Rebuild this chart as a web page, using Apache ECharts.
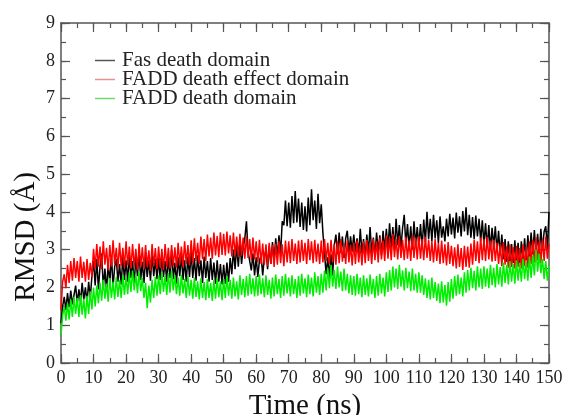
<!DOCTYPE html>
<html>
<head>
<meta charset="utf-8">
<script src="https://cdn.jsdelivr.net/npm/echarts@6/dist/echarts.min.js"></script>
<style>
  html, body { margin: 0; padding: 0; background: #fff; }
  #chart { width: 569px; height: 415px; }
</style>
</head>
<body>
<div id="chart"></div>
<script>
// RMSD samples, one every 0.5 ns from 0 to 150 ns
const seriesNames = ['Fas death domain', 'FADD death effect domain', 'FADD death domain'];
const xTicks = [0, 10, 20, 30, 40, 50, 60, 70, 80, 90, 100, 110, 120, 130, 140, 150];
const yTicks = [0, 1, 2, 3, 4, 5, 6, 7, 8, 9];
const timeStep = 0.5;

const fasDD = [
  1.05, 1.50, 1.75, 1.40, 1.85, 1.48, 1.92, 1.55, 1.80, 2.05, 1.58, 1.95, 1.62, 2.12, 1.68, 2.00, 1.60, 2.15, 1.72, 2.30,
  2.70, 2.05, 2.75, 1.95, 2.55, 2.90, 2.00, 2.50, 1.90, 2.65, 2.10, 2.85, 2.02, 2.55, 2.75, 2.15, 2.62, 2.08, 2.80, 2.20,
  2.72, 2.15, 2.85, 2.25, 2.70, 2.10, 2.78, 2.30, 2.95, 2.20, 2.68, 2.12, 2.82, 2.28, 2.72, 2.18, 2.90, 2.30, 2.75, 2.22,
  2.78, 2.20, 2.85, 2.28, 2.70, 2.15, 2.82, 2.25, 2.98, 2.22, 2.65, 2.10, 2.80, 2.30, 2.88, 2.20, 2.72, 2.15, 2.82, 2.28,
  2.95, 2.25, 2.78, 2.18, 2.85, 2.30, 2.72, 2.12, 2.82, 2.25, 2.70, 2.15, 2.78, 2.20, 2.66, 2.10, 2.72, 2.15, 2.62, 2.08,
  2.60, 2.10, 2.66, 2.15, 2.78, 2.35, 3.00, 2.48, 3.12, 2.55, 3.20, 2.62, 3.05, 3.30, 3.75, 2.95, 2.98, 2.45, 2.90, 2.32,
  2.80, 2.28, 2.72, 2.85, 2.32, 2.80, 3.00, 2.48, 3.10, 2.62, 3.20, 2.72, 3.30, 2.80, 3.38, 2.90, 3.75, 3.65, 4.30, 3.62,
  4.25, 3.58, 4.42, 3.70, 4.55, 3.72, 4.35, 3.60, 4.25, 3.52, 4.15, 3.48, 4.38, 3.65, 4.60, 3.78, 4.30, 3.55, 4.48, 3.70,
  4.20, 3.45, 2.90, 2.35, 2.80, 2.25, 2.88, 2.32, 3.12, 3.40, 2.88, 3.45, 2.92, 3.35, 2.78, 3.30, 3.50, 2.92, 3.35, 2.95,
  3.40, 2.95, 3.30, 2.88, 3.55, 2.90, 3.28, 2.80, 3.40, 2.92, 3.60, 2.92, 3.32, 2.82, 3.45, 2.95, 3.38, 2.85, 3.50, 2.98,
  3.55, 3.02, 3.70, 3.05, 3.60, 2.98, 3.82, 3.12, 3.65, 3.05, 3.58, 3.92, 3.12, 3.68, 3.05, 3.62, 3.00, 3.75, 3.12, 3.60,
  3.08, 3.68, 3.05, 3.80, 3.20, 4.00, 3.28, 3.82, 3.22, 3.92, 3.30, 3.78, 3.18, 3.88, 3.32, 3.62, 3.22, 3.82, 3.35, 3.95,
  3.40, 3.85, 3.30, 3.98, 3.45, 3.88, 3.35, 4.02, 3.48, 4.12, 3.38, 3.92, 3.32, 3.86, 3.28, 3.90, 3.35, 3.82, 3.22, 3.78,
  3.15, 3.70, 3.05, 3.65, 3.00, 3.58, 3.08, 3.62, 2.95, 3.50, 2.85, 3.40, 2.75, 3.28, 2.68, 3.22, 2.62, 3.15, 2.65, 3.25,
  2.62, 3.18, 2.58, 3.22, 2.68, 3.30, 2.72, 3.38, 2.82, 3.45, 2.88, 3.52, 2.92, 3.42, 2.88, 3.55, 2.98, 3.48, 3.62, 3.02,
  4.00
];

const faddDED = [
  1.40, 2.15, 2.35, 1.98, 2.60, 2.12, 2.70, 2.18, 2.78, 2.25, 2.70, 2.15, 2.82, 2.25, 2.68, 2.15, 2.75, 2.20, 2.65, 2.28,
  3.02, 2.50, 3.15, 2.55, 3.08, 2.48, 3.22, 2.60, 3.05, 2.45, 3.12, 2.55, 3.25, 2.62, 3.05, 2.50, 3.18, 2.56, 3.05, 2.52,
  3.22, 2.58, 3.08, 2.50, 3.15, 2.55, 3.02, 2.46, 3.16, 2.56, 3.06, 2.50, 3.12, 2.54, 2.98, 2.44, 3.15, 2.56, 3.04, 2.48,
  3.08, 2.52, 3.02, 2.46, 3.15, 2.54, 3.05, 2.50, 3.12, 2.56, 3.06, 2.52, 3.18, 2.60, 3.08, 2.55, 3.22, 2.62, 3.12, 2.58,
  3.25, 2.65, 3.30, 2.70, 3.18, 2.62, 3.35, 2.75, 3.28, 2.70, 3.40, 2.82, 3.32, 2.76, 3.45, 2.85, 3.36, 2.80, 3.46, 2.86,
  3.42, 2.85, 3.48, 2.90, 3.38, 2.82, 3.45, 2.86, 3.35, 2.80, 3.42, 2.84, 3.32, 2.76, 3.36, 2.78, 3.28, 2.72, 3.32, 2.74,
  3.22, 2.66, 3.26, 2.62, 3.16, 2.60, 3.14, 2.56, 3.18, 2.62, 3.12, 2.54, 3.16, 2.60, 3.22, 2.64, 3.14, 2.56, 3.24, 2.66,
  3.22, 2.64, 3.28, 2.70, 3.16, 2.62, 3.24, 2.66, 3.26, 2.70, 3.18, 2.62, 3.28, 2.72, 3.22, 2.64, 3.26, 2.68, 3.16, 2.62,
  3.24, 2.66, 3.28, 2.70, 3.18, 2.62, 3.26, 2.68, 3.14, 2.60, 3.22, 2.64, 3.28, 2.68, 3.16, 2.62, 3.24, 2.66, 3.12, 2.58,
  3.18, 2.62, 3.24, 2.66, 3.12, 2.58, 3.22, 2.64, 3.26, 2.70, 3.16, 2.62, 3.28, 2.72, 3.22, 2.66, 3.32, 2.74, 3.24, 2.70,
  3.38, 2.76, 3.32, 2.72, 3.42, 2.80, 3.28, 2.74, 3.36, 2.78, 3.26, 2.72, 3.34, 2.76, 3.24, 2.70, 3.38, 2.78, 3.32, 2.74,
  3.36, 2.76, 3.28, 2.72, 3.34, 2.78, 3.26, 2.70, 3.22, 2.66, 3.28, 2.70, 3.18, 2.62, 3.24, 2.64, 3.14, 2.58, 3.20, 2.62,
  3.10, 2.56, 3.06, 2.50, 3.14, 2.54, 3.04, 2.46, 3.10, 2.54, 3.08, 2.52, 3.16, 2.60, 3.26, 2.70, 3.22, 2.64, 3.32, 2.72,
  3.28, 2.70, 3.34, 2.74, 3.24, 2.68, 3.26, 2.70, 3.18, 2.62, 3.14, 2.56, 3.20, 2.60, 3.08, 2.52, 3.14, 2.54, 3.06, 2.50,
  3.10, 2.54, 3.04, 2.50, 3.14, 2.56, 3.08, 2.52, 3.22, 2.62, 3.26, 2.66, 3.32, 2.72, 3.22, 2.64, 3.28, 2.70, 3.34, 2.76,
  3.15
];

const faddDD = [
  0.75, 1.25, 1.50, 1.12, 1.58, 1.15, 1.68, 1.22, 1.75, 1.30, 1.72, 1.22, 1.80, 1.28, 1.70, 1.18, 1.78, 1.30, 1.90, 1.42,
  2.00, 1.50, 2.05, 1.58, 2.12, 1.65, 2.20, 1.70, 2.10, 1.62, 2.25, 1.72, 2.15, 1.68, 2.28, 1.75, 2.20, 1.72, 2.32, 1.80,
  2.30, 1.82, 2.40, 1.88, 2.45, 1.92, 2.35, 1.85, 2.42, 1.90, 2.25, 1.72, 2.12, 1.45, 2.05, 1.60, 2.20, 1.72, 2.28, 1.78,
  2.32, 1.82, 2.40, 1.88, 2.30, 1.80, 2.38, 1.86, 2.45, 1.92, 2.32, 1.82, 2.26, 1.78, 2.34, 1.84, 2.22, 1.72, 2.30, 1.78,
  2.20, 1.70, 2.26, 1.75, 2.16, 1.68, 2.24, 1.72, 2.14, 1.66, 2.22, 1.72, 2.12, 1.64, 2.20, 1.70, 2.24, 1.74, 2.16, 1.66,
  2.22, 1.72, 2.30, 1.78, 2.20, 1.70, 2.26, 1.76, 2.16, 1.68, 2.32, 1.80, 2.22, 1.74, 2.30, 1.78, 2.36, 1.82, 2.24, 1.76,
  2.30, 1.78, 2.34, 1.82, 2.24, 1.74, 2.32, 1.80, 2.20, 1.70, 2.26, 1.76, 2.34, 1.82, 2.22, 1.72, 2.30, 1.78, 2.36, 1.84,
  2.26, 1.76, 2.32, 1.82, 2.22, 1.72, 2.30, 1.78, 2.36, 1.84, 2.24, 1.74, 2.34, 1.82, 2.26, 1.76, 2.40, 1.86, 2.30, 1.80,
  2.36, 1.86, 2.45, 1.92, 2.52, 1.98, 2.60, 2.02, 2.46, 1.96, 2.55, 2.00, 2.42, 1.90, 2.50, 1.92, 2.36, 1.84, 2.32, 1.80,
  2.30, 1.78, 2.36, 1.82, 2.26, 1.74, 2.32, 1.80, 2.24, 1.76, 2.34, 1.82, 2.22, 1.72, 2.30, 1.78, 2.36, 1.84, 2.26, 1.76,
  2.40, 1.88, 2.46, 1.92, 2.55, 2.00, 2.50, 1.96, 2.60, 2.02, 2.45, 1.92, 2.52, 1.98, 2.42, 1.90, 2.50, 1.92, 2.36, 1.86,
  2.40, 1.86, 2.32, 1.80, 2.24, 1.72, 2.20, 1.68, 2.26, 1.72, 2.14, 1.64, 2.10, 1.58, 2.16, 1.60, 2.06, 1.52, 2.14, 1.62,
  2.22, 1.70, 2.30, 1.78, 2.34, 1.82, 2.26, 1.76, 2.40, 1.86, 2.46, 1.92, 2.52, 1.98, 2.44, 1.92, 2.56, 2.00, 2.50, 1.96,
  2.56, 2.02, 2.50, 1.98, 2.60, 2.06, 2.52, 2.00, 2.62, 2.08, 2.54, 2.02, 2.66, 2.12, 2.60, 2.08, 2.70, 2.15, 2.62, 2.10,
  2.72, 2.18, 2.66, 2.15, 2.76, 2.22, 2.70, 2.18, 2.80, 2.25, 2.85, 2.32, 3.00, 2.42, 2.90, 2.38, 2.76, 2.22, 2.70, 2.18,
  2.58
];

const colors = ['#000000', '#ff0000', '#00ee00'];
const legendColors = ['#555555', '#e89090', '#70d870'];
const serif = 'Liberation Serif';

function pairs(values) {
  return values.map((v, i) => [i * timeStep, v]);
}

const chart = echarts.init(document.getElementById('chart'));

const frameColor = '#555';
const noSplit = { show: false };
const noLabel = { show: false };

// tick-only axis pushed into the plot by its tick length, so the ticks point inwards
function tickAxis(position, min, max, interval, len) {
  return {
    type: 'value', position, min, max, interval, offset: -len,
    axisLine: { show: false, onZero: false },
    axisTick: { show: true, inside: false, length: len, lineStyle: { color: frameColor, width: 1.2 } },
    splitLine: noSplit, axisLabel: noLabel
  };
}

function frameAxis(position, min, max, interval, label) {
  return {
    type: 'value', position, min, max, interval,
    axisLine: { show: true, onZero: false, lineStyle: { color: frameColor, width: 1.5 } },
    axisTick: { show: false }, splitLine: noSplit,
    axisLabel: label || noLabel
  };
}

const xBottom = frameAxis('bottom', 0, 150, 10, {
  fontFamily: serif, fontSize: 18, color: '#222', margin: 6,
  formatter: v => (xTicks.includes(v) ? String(v) : '')
});
xBottom.name = 'Time (ns)';
xBottom.nameLocation = 'middle';
xBottom.nameGap = 35;
xBottom.nameTextStyle = { fontFamily: serif, fontSize: 29, color: '#111', verticalAlign: 'middle' };

const yLeft = frameAxis('left', 0, 9, 1, {
  fontFamily: serif, fontSize: 18, color: '#222', margin: 6,
  formatter: v => (yTicks.includes(v) ? String(v) : '')
});

const option = {
  animation: false,
  backgroundColor: '#fff',
  grid: { left: 61, right: 20, top: 23, bottom: 52, containLabel: false, outerBoundsMode: 'none' },
  legend: {
    left: 90,
    top: 45,
    orient: 'vertical',
    itemWidth: 20,
    itemHeight: 1.5,
    itemGap: -2,
    icon: 'rect',
    textStyle: { fontFamily: serif, fontSize: 21, color: '#222', padding: [0, 0, 0, 2] },
    data: seriesNames.map((n, i) => ({ name: n, itemStyle: { color: legendColors[i] } }))
  },
  xAxis: [
    xBottom,
    frameAxis('top', 0, 150, 10),
    tickAxis('bottom', 0, 150, 10, 9),
    tickAxis('bottom', 0, 150, 5, 5),
    tickAxis('top', 0, 150, 10, 9),
    tickAxis('top', 0, 150, 5, 5)
  ],
  yAxis: [
    yLeft,
    frameAxis('right', 0, 9, 1),
    tickAxis('left', 0, 9, 1, 9),
    tickAxis('left', 0, 9, 0.5, 5),
    tickAxis('right', 0, 9, 1, 9),
    tickAxis('right', 0, 9, 0.5, 5)
  ],
  graphic: [
    {
      type: 'text', left: 12, top: 172, rotation: Math.PI / 2,
      style: { text: 'RMSD (Å)', font: '29px "Liberation Serif"', fill: '#111' }
    }
  ],
  series: [fasDD, faddDED, faddDD].map((vals, i) => ({
    name: seriesNames[i],
    type: 'line',
    xAxisIndex: 0,
    yAxisIndex: 0,
    data: pairs(vals),
    showSymbol: false,
    symbol: 'none',
    sampling: null,
    color: colors[i],
    lineStyle: { color: colors[i], width: 1.5 },
    z: 2 + i
  }))
};

chart.setOption(option);
</script>
</body>
</html>
